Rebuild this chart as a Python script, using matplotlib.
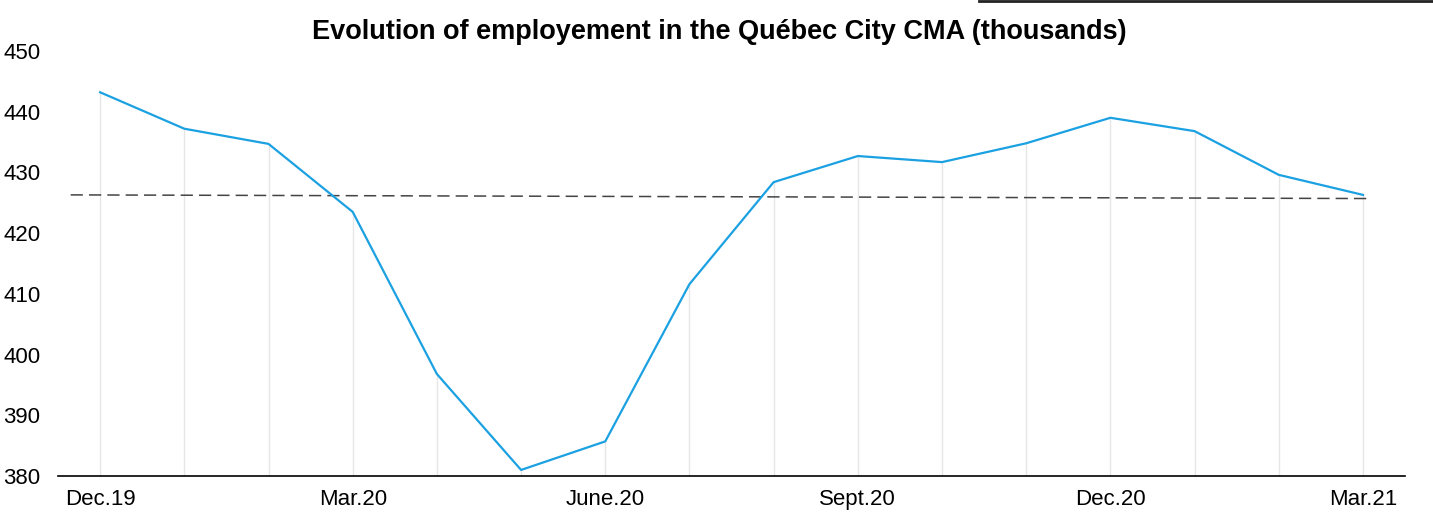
import numpy as np
import matplotlib
matplotlib.use("Agg")
from matplotlib import pyplot as plt
from matplotlib.lines import Line2D

# data
months = ["Dec.19", "Jan.20", "Feb.20", "Mar.20", "Apr.20", "May.20", "June.20", "Jul.20",
          "Aug.20", "Sept.20", "Oct.20", "Nov.20", "Dec.20", "Jan.21", "Feb.21", "Mar.21"]
employment = [443.2, 437.2, 434.7, 423.5, 396.8, 381.0, 385.7, 411.6,
              428.4, 432.7, 431.7, 434.8, 439.0, 436.8, 429.6, 426.3]
reference_level = [426.3, 425.7]   # dashed line, start / end
shown_ticks = ["Dec.19", "Mar.20", "June.20", "Sept.20", "Dec.20", "Mar.21"]
y_ticks = [380, 390, 400, 410, 420, 430, 440, 450]

plt.rcParams['font.family'] = ['Liberation Sans', 'DejaVu Sans']

fig = plt.figure(figsize=(14.33, 5.12), dpi=100)
ax = fig.add_axes([0.0405, 0.0703, 0.94, 0.8301])

x = np.arange(len(months))

# drop lines from each point to the axis
ax.vlines(x, 380, employment, color="#e6e6e6", lw=1, zorder=1)

ax.plot(x, employment, color="#1ba1e2", lw=1.6, zorder=3)
ax.plot([-0.35, x[-1] + 0.05], reference_level, color="#444444", lw=1.1,
        linestyle=(0, (8, 4)), zorder=2)

ax.set_xlim(-0.5, 15.5)
ax.set_ylim(380, 450)
ax.set_yticks(y_ticks)
ax.set_yticklabels([str(v) for v in y_ticks], fontsize=16)
for lab in ax.get_yticklabels():
    lab.set_horizontalalignment("left")
ax.tick_params(axis="y", length=0, pad=39.5)

tick_pos = [months.index(m) for m in shown_ticks]
ax.set_xticks(tick_pos)
ax.set_xticklabels(shown_ticks, fontsize=16)
ax.tick_params(axis="x", length=0, pad=9)

for s in ["top", "right", "left"]:
    ax.spines[s].set_visible(False)
ax.spines["bottom"].set_color("black")
ax.spines["bottom"].set_linewidth(1.2)

fig.text(0.502, 0.938, "Evolution of employement in the Québec City CMA (thousands)",
         ha="center", va="center", fontsize=19.5, fontweight="bold")

# dark edge visible at the top right of the reference crop
fig.add_artist(Line2D([0.683, 1.0], [0.999, 0.999], transform=fig.transFigure,
                      color="#222222", lw=2))

fig.savefig("out.png", dpi=100)
